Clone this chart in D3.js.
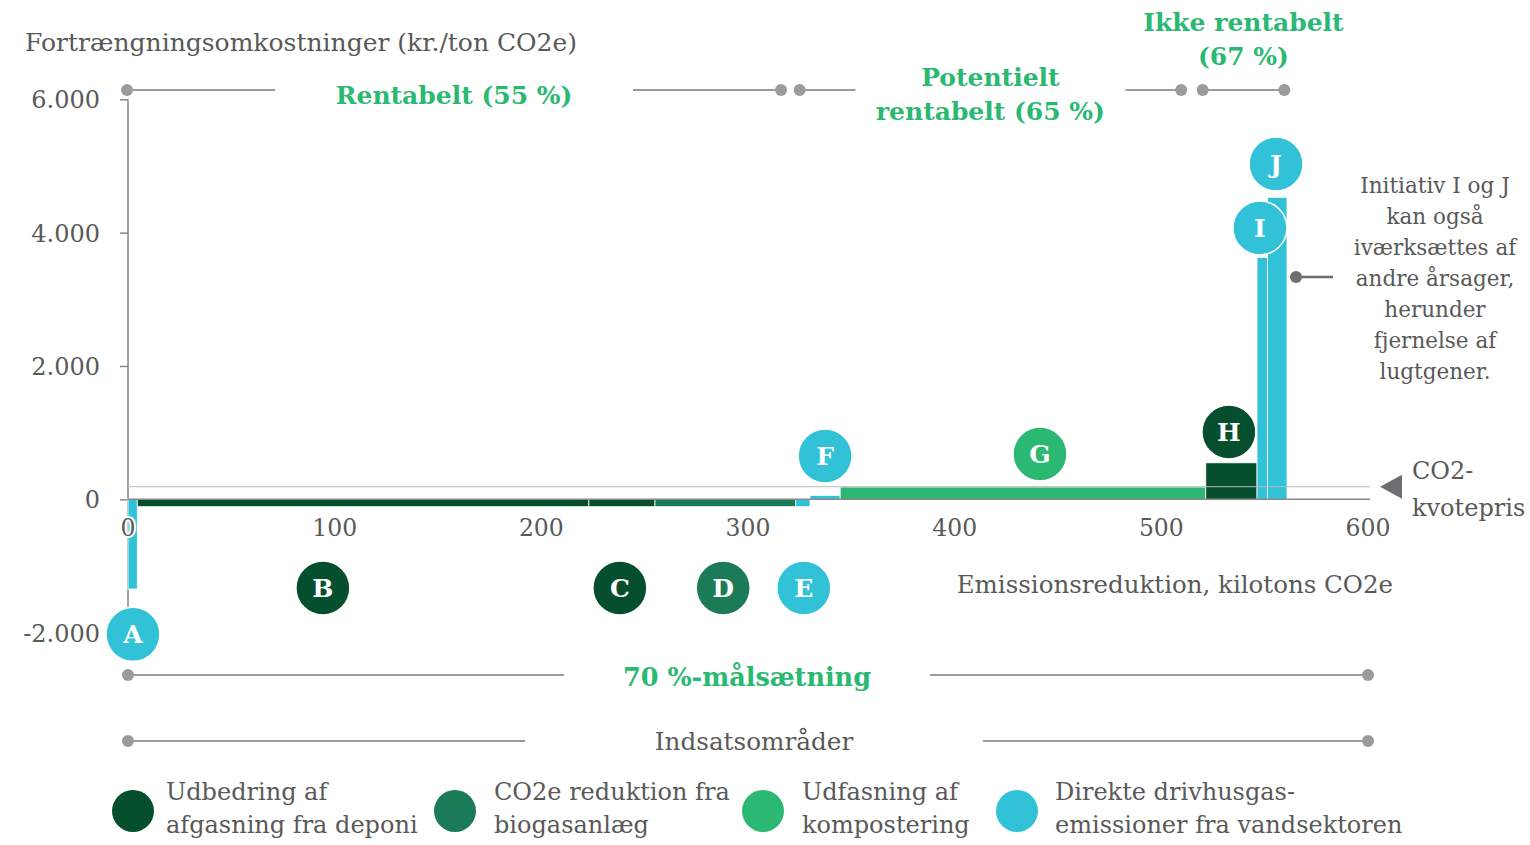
<!DOCTYPE html>
<html>
<head>
<meta charset="utf-8">
<script src="https://cdn.jsdelivr.net/npm/d3@7"></script>
<style>
  body { margin: 0; background: #fff; }
  svg { display: block; }
  text { font-family: "DejaVu Serif", Georgia, serif; fill: #595959; }
  .green { fill: #2bb872; font-weight: bold; }
  .badge { fill: #fff; font-weight: bold; }
</style>
</head>
<body>
<div id="chart"></div>
<script>
// initiatives, in order along the x axis
const initiatives = ["A", "B", "C", "D", "E", "F", "G", "H", "I", "J"];
// emission reduction per initiative (kilotons CO2e) = bar widths
const reductions = [4.5, 218.5, 32, 68, 7, 14.6, 176.9, 24.8, 5.1, 9.4];
// abatement cost (kr./ton CO2e) = bar heights
const costs = [-1345, -110, -110, -110, -110, 60, 185, 548, 3630, 4530];
// legend group of each initiative
const groups = [3, 0, 0, 1, 3, 3, 2, 0, 3, 3];
// badge anchor in data units [kt, kr./ton]
const badgeX = [2.4, 94.3, 238, 288, 327, 337.3, 441.3, 532.7, 547.7, 555.5];
const badgeY = [-2025, -1330, -1330, -1330, -1330, 650, 680, 1010, 4070, 5030];

const xTicks = [0, 100, 200, 300, 400, 500, 600];
const yTicks = [-2000, 0, 2000, 4000, 6000];
const co2Price = 190;

const legendLabels = [
  ["Udbedring af", "afgasning fra deponi"],
  ["CO2e reduktion fra", "biogasanlæg"],
  ["Udfasning af", "kompostering"],
  ["Direkte drivhusgas-", "emissioner fra vandsektoren"]
];
const groupColors = ["#064f2e", "#1b7b57", "#2bb872", "#32c2d8"];

// top brackets: [from kt, to kt, label lines]
const profitBrackets = [
  { from: 0, to: 316, lines: ["Rentabelt (55 %)"] },
  { from: 325, to: 509.6, lines: ["Potentielt", "rentabelt (65 %)"] },
  { from: 520, to: 559.5, lines: ["Ikke rentabelt", "(67 %)"] }
];
const noteLines = ["Initiativ I og J", "kan også", "iværksættes af", "andre årsager,", "herunder", "fjernelse af", "lugtgener."];

const width = 1530, height = 845;
const svg = d3.select("#chart").append("svg")
  .attr("width", width).attr("height", height);

const x = d3.scaleLinear().domain([0, 600]).range([128, 1368]);
const y = d3.scaleLinear().domain([-2000, 6000]).range([632.7, 99.3]);

const ends = d3.cumsum(reductions);
const bars = initiatives.map((id, i) => ({
  id, cost: costs[i], group: groups[i],
  x0: ends[i] - reductions[i], x1: ends[i],
  bx: badgeX[i], by: badgeY[i]
}));

// y axis title
svg.append("text").attr("x", 25).attr("y", 51)
  .style("font-size", "25px").text("Fortrængningsomkostninger (kr./ton CO2e)");

// y axis
const fmt = d => d3.format(",")(d).replace(/,/g, ".").replace("−", "-");
const yAxis = svg.append("g").attr("transform", `translate(${x(0)},0)`)
  .call(d3.axisLeft(y).tickValues(yTicks).tickSize(8).tickPadding(20).tickFormat(fmt));
yAxis.select(".domain").remove();
yAxis.selectAll("line").attr("stroke", "#888").attr("stroke-width", 1.5);
yAxis.selectAll("text").style("font-size", "24px").attr("fill", "#595959")
  .style("font-family", "'DejaVu Serif', serif").attr("dy", "0.35em");
svg.append("line").attr("x1", x(0)).attr("x2", x(0))
  .attr("y1", y(6000)).attr("y2", y(-2000))
  .attr("stroke", "#888").attr("stroke-width", 1.5);

// bars
svg.append("g").selectAll("rect").data(bars).join("rect")
  .attr("x", d => x(d.x0))
  .attr("width", d => x(d.x1) - x(d.x0))
  .attr("y", d => y(Math.max(0, d.cost)))
  .attr("height", d => Math.abs(y(d.cost) - y(0)))
  .attr("fill", d => groupColors[d.group])
  .attr("stroke", "#fff").attr("stroke-width", 0.8);

// x axis line
svg.append("line").attr("x1", x(0)).attr("x2", 1370)
  .attr("y1", y(0)).attr("y2", y(0))
  .attr("stroke", "#888").attr("stroke-width", 1.5);

// CO2 price line
svg.append("line").attr("x1", x(0)).attr("x2", 1370)
  .attr("y1", y(co2Price)).attr("y2", y(co2Price))
  .attr("stroke", "#bbb").attr("stroke-width", 1.3).attr("opacity", 0.8);
svg.append("path")
  .attr("d", `M1380,${y(co2Price)} L1402,${y(co2Price) - 12} L1402,${y(co2Price) + 12} Z`)
  .attr("fill", "#6d6e71");
svg.append("text").attr("x", 1412).attr("y", 479).style("font-size", "24px").text("CO2-");
svg.append("text").attr("x", 1412).attr("y", 516).style("font-size", "24px").text("kvotepris");

// x tick labels
svg.append("g").selectAll("text").data(xTicks).join("text")
  .attr("x", d => x(d)).attr("y", 536)
  .attr("text-anchor", "middle").style("font-size", "23.5px")
  .attr("stroke", "#fff").attr("stroke-width", 4).attr("paint-order", "stroke")
  .text(d => d);

svg.append("text").attr("x", 1393).attr("y", 593).attr("text-anchor", "end")
  .style("font-size", "24.5px").text("Emissionsreduktion, kilotons CO2e");

// badges
const badge = svg.append("g").selectAll("g").data(bars).join("g")
  .attr("transform", d => `translate(${x(d.bx)},${y(d.by)})`);
badge.append("circle").attr("r", 27)
  .attr("fill", d => groupColors[d.group])
  .attr("stroke", "#fff").attr("stroke-width", 1.5);
badge.append("text").attr("class", "badge").attr("text-anchor", "middle")
  .attr("dy", "0.36em").style("font-size", "25px").text(d => d.id);

// bracket helper
function bracket(x1, x2, yy, gapCenter, gapHalf, dots) {
  const g = svg.append("g");
  const segs = gapHalf > 0
    ? [[x1, gapCenter - gapHalf], [gapCenter + gapHalf, x2]]
    : [[x1, x2]];
  segs.forEach(s => g.append("line").attr("x1", s[0]).attr("x2", s[1])
    .attr("y1", yy).attr("y2", yy).attr("stroke", "#9b9b9b").attr("stroke-width", 2));
  dots.forEach(px => g.append("circle").attr("cx", px).attr("cy", yy)
    .attr("r", 6).attr("fill", "#9b9b9b"));
}

// profitability brackets
const bY = 90;
const gaps = [179, 135, 0];
profitBrackets.forEach((b, i) => {
  const x1 = x(b.from) - (i === 0 ? 1 : 0), x2 = x(b.to);
  const cx = (x1 + x2) / 2;
  bracket(x1, x2, bY, cx, gaps[i], [x1, x2]);
  const baseY = i === 0 ? 104 : i === 1 ? 86 : 31;
  b.lines.forEach((l, j) => svg.append("text").attr("class", "green")
    .attr("x", cx).attr("y", baseY + j * 34).attr("text-anchor", "middle")
    .style("font-size", "25px").text(l));
});

// 70 % target and area brackets
bracket(x(0), x(600), 675, 747, 183, [x(0), x(600)]);
svg.append("text").attr("class", "green").attr("x", 747).attr("y", 686)
  .attr("text-anchor", "middle").style("font-size", "25.5px").text("70 %-målsætning");
bracket(x(0), x(600), 741, 754, 229, [x(0), x(600)]);
svg.append("text").attr("x", 754).attr("y", 750)
  .attr("text-anchor", "middle").style("font-size", "24.7px").text("Indsatsområder");

// note for I and J
noteLines.forEach((l, i) => svg.append("text").attr("x", 1435).attr("y", 193 + i * 31)
  .attr("text-anchor", "middle").style("font-size", "21.5px").text(l));
svg.append("line").attr("x1", 1296).attr("x2", 1333).attr("y1", 277).attr("y2", 277)
  .attr("stroke", "#6d6e71").attr("stroke-width", 2.5);
svg.append("circle").attr("cx", 1296).attr("cy", 277).attr("r", 6).attr("fill", "#6d6e71");

// legend
const legX = [133, 455, 763, 1017];
const legTextX = [166, 494, 802, 1055];
const leg = svg.append("g").selectAll("g").data(legendLabels).join("g")
  .attr("transform", (d, i) => `translate(${legX[i]},811)`);
leg.append("circle").attr("r", 21).attr("fill", (d, i) => groupColors[i]);
leg.append("text").attr("x", (d, i) => legTextX[i] - legX[i]).attr("y", -11)
  .style("font-size", "24px").text(d => d[0]);
leg.append("text").attr("x", (d, i) => legTextX[i] - legX[i]).attr("y", 22)
  .style("font-size", "24px").text(d => d[1]);
</script>
</body>
</html>
